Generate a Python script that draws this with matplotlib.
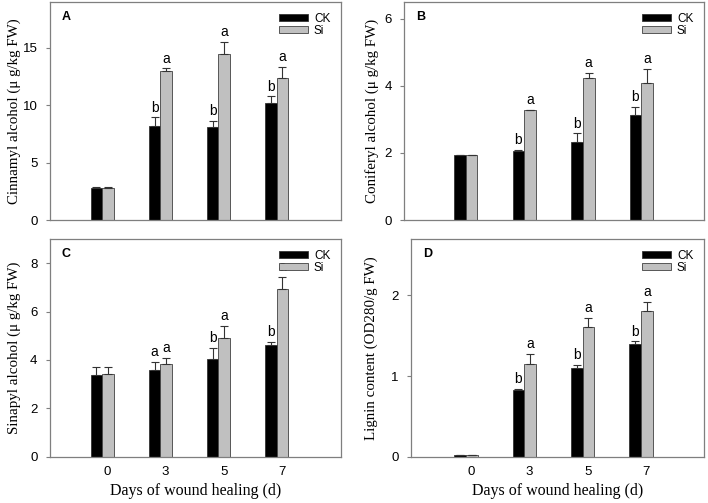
import matplotlib.pyplot as plt
import numpy as np

days = ["0", "3", "5", "7"]
letters_ck = {
    "A": ["", "b", "b", "b"],
    "B": ["", "b", "b", "b"],
    "C": ["", "a", "b", "b"],
    "D": ["", "b", "b", "b"],
}
letters_si = {
    "A": ["", "a", "a", "a"],
    "B": ["", "a", "a", "a"],
    "C": ["", "a", "a", "a"],
    "D": ["", "a", "a", "a"],
}

# 各面板數據 (CK / Si 平均值與標準誤)
cinnamyl_ck = [2.82, 8.22, 8.14, 10.17]
cinnamyl_ck_err = [0.05, 0.72, 0.52, 0.62]
cinnamyl_si = [2.82, 12.96, 14.45, 12.41]
cinnamyl_si_err = [0.05, 0.25, 1.1, 0.96]

coniferyl_ck = [1.93, 2.07, 2.32, 3.13]
coniferyl_ck_err = [0.02, 0.03, 0.26, 0.25]
coniferyl_si = [1.93, 3.27, 4.22, 4.10]
coniferyl_si_err = [0.02, 0.02, 0.17, 0.41]

sinapyl_ck = [3.38, 3.57, 4.04, 4.60]
sinapyl_ck_err = [0.32, 0.36, 0.47, 0.15]
sinapyl_si = [3.40, 3.85, 4.91, 6.94]
sinapyl_si_err = [0.30, 0.25, 0.49, 0.50]

lignin_ck = [0.02, 0.83, 1.10, 1.40]
lignin_ck_err = [0.005, 0.01, 0.04, 0.03]
lignin_si = [0.02, 1.155, 1.61, 1.81]
lignin_si_err = [0.005, 0.12, 0.11, 0.11]

panels = [
    ("A", "Cinnamyl alcohol (\u03bc g/kg FW)", cinnamyl_ck, cinnamyl_ck_err, cinnamyl_si, cinnamyl_si_err,
     19, [0, 5, 10, 15], [0.0706, 0.5626, 0.411, 0.4334], (-0.9, 4.11), -0.1),
    ("B", "Coniferyl alcohol (\u03bc g/kg FW)", coniferyl_ck, coniferyl_ck_err, coniferyl_si, coniferyl_si_err,
     6.5, [0, 2, 4, 6], [0.571, 0.5626, 0.4233, 0.4334], (-1.05, 4.07), -0.085),
    ("C", "Sinapyl alcohol (\u03bc g/kg FW)", sinapyl_ck, sinapyl_ck_err, sinapyl_si, sinapyl_si_err,
     9, [0, 2, 4, 6, 8], [0.0706, 0.092, 0.411, 0.4328], (-0.9, 4.11), -0.1),
    ("D", "Lignin content (OD280/g FW)", lignin_ck, lignin_ck_err, lignin_si, lignin_si_err,
     2.7, [0, 1, 2], [0.5805, 0.092, 0.4138, 0.4328], (-0.94, 4.08), -0.112),
]

fig = plt.figure(figsize=(7.08, 5.03), dpi=100)

x = np.arange(len(days))
w = 0.2
spine_c = "#7f7f7f"
sans = "Liberation Sans"
serif = "Liberation Serif"

for label, ylabel, ck, ck_err, si, si_err, ymax, yticks, pos, xlim, ylab_x in panels:
    ax = fig.add_axes(pos)
    ax.bar(x - w / 2, ck, w, color="black", edgecolor="#333333", linewidth=0.6,
           yerr=[np.zeros(4), ck_err], error_kw=dict(ecolor="#333333", elinewidth=0.8, capsize=3, capthick=0.8),
           label="CK")
    ax.bar(x + w / 2, si, w, color="#c0c0c0", edgecolor="#404040", linewidth=0.6,
           yerr=[np.zeros(4), si_err], error_kw=dict(ecolor="#333333", elinewidth=0.8, capsize=3, capthick=0.8),
           label="Si")

    # 顯著性字母
    off = ymax * 0.012
    for i in range(len(days)):
        if letters_ck[label][i]:
            ax.text(x[i] - w / 2, ck[i] + ck_err[i] + off, letters_ck[label][i], ha="center", va="bottom",
                    fontsize=10, family=sans)
        if letters_si[label][i]:
            ax.text(x[i] + w / 2, si[i] + si_err[i] + off, letters_si[label][i], ha="center", va="bottom",
                    fontsize=10, family=sans)

    ax.set_xlim(*xlim)
    ax.set_ylim(0, ymax)
    ax.set_yticks(yticks)
    ax.set_yticklabels([str(t) for t in yticks], family=sans, fontsize=9.5)
    ax.tick_params(axis="y", direction="out", length=3, width=0.8, color=spine_c, pad=6)
    ax.tick_params(axis="x", length=0, pad=7)
    if label in ("C", "D"):
        ax.set_xticks(x + 0.09)
        ax.set_xticklabels(days, family=sans, fontsize=9.5)
        ax.set_xlabel("Days of wound healing (d)", family=serif, fontsize=11.5, labelpad=3)
    else:
        ax.set_xticks([])
    ax.set_ylabel(ylabel, family=serif, fontsize=10.8)
    ax.yaxis.set_label_coords(ylab_x, 0.5)
    for s in ax.spines.values():
        s.set_color(spine_c)
        s.set_linewidth(0.9)

    ax.text(0.04, 0.93, label, transform=ax.transAxes, fontsize=9, fontweight="bold",
            family=sans, va="center")
    ax.legend(loc="upper right", frameon=False, handlelength=2.5, handleheight=0.55,
              labelspacing=0.0, handletextpad=0.5, borderaxespad=0.5, borderpad=0.4,
              prop={"family": sans, "size": 8.5})

plt.savefig("out.png", dpi=100)
